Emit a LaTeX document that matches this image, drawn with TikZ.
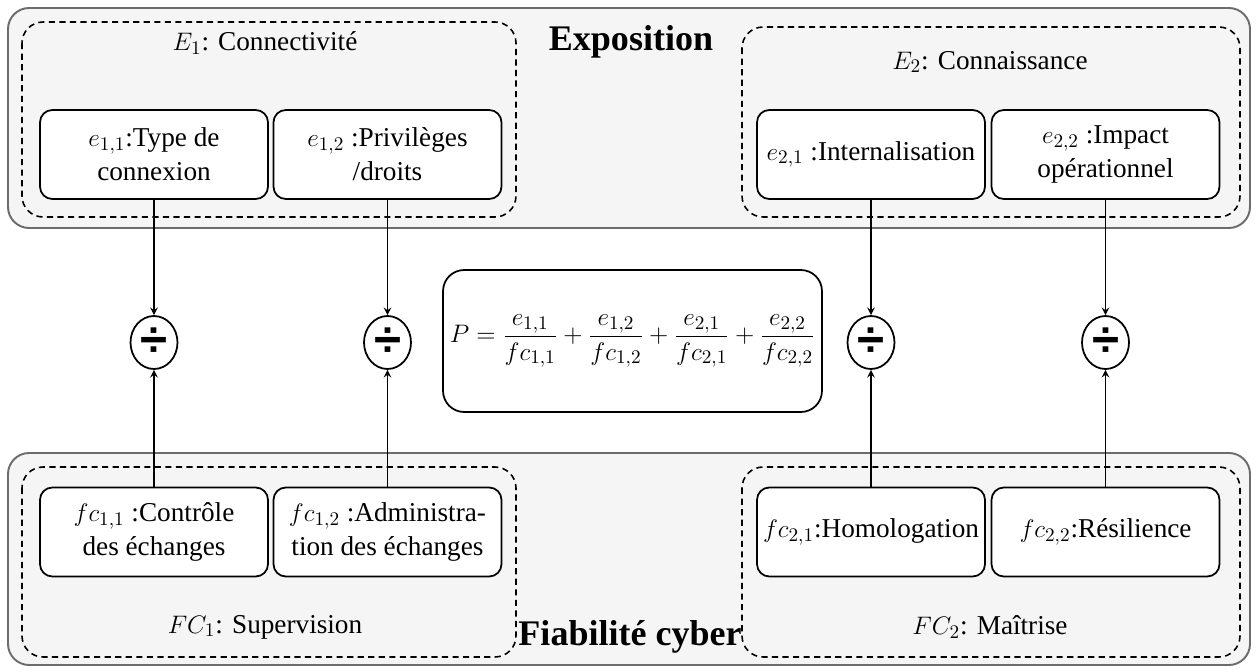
\documentclass[tikz,border=0pt]{standalone}
\usepackage{amsmath}
\usepackage{fontspec}
\setmainfont{Liberation Serif}
\newfontfamily\opfont{Liberation Sans}
\usetikzlibrary{shapes.geometric}
\begin{document}
\begin{tikzpicture}[x=0.02cm,y=-0.02cm,>=stealth,
	font=\fontsize{15.5}{19.5}\selectfont,
	panel/.style={draw=gray!85!black, fill=gray!8, line width=1.1pt, rounded corners=12pt},
	group/.style={draw, line width=0.9pt, rounded corners=12pt, dash pattern=on 3.5pt off 2.5pt},
	item/.style={draw, fill=white, line width=1pt, rounded corners=7pt, minimum width=4.56cm, minimum height=1.78cm, align=center, inner sep=1pt},
	divop/.style={draw, fill=white, ellipse, line width=1pt, minimum width=0.94cm, minimum height=1.06cm, inner sep=0pt},
	title/.style={font=\fontsize{20.5}{24}\selectfont\bfseries},
	link/.style={->, line width=0.9pt}]
	\useasboundingbox (0,0) rectangle (1257,672);
	
	% panels
	\draw[panel] (8,8) rectangle (1250,228);
	\draw[panel] (8,453) rectangle (1250,665);
	\node[title] (expo) at (631,42) {Exposition};
	\node[title] (fiab) at (630,637) {Fiabilité cyber};
	
	% exposition groups
	\draw[group] (22,22) rectangle (516,217);
	\draw[group] (742,27) rectangle (1240,217);
	\node (E1) at (265,43) {$E_1$: Connectivité};
	\node (E2) at (990,62) {$E_2$: Connaissance};
	\node[item] (e11) at (154,154.5) {$e_{1,1}$:Type de\\connexion};
	\node[item] (e12) at (387.5,154.5) {$e_{1,2}$ :Privilèges\\ /droits};
	\node[item] (e21) at (871,154.5) {$e_{2,1}$ :Internalisation};
	\node[item] (e22) at (1105.5,154.5) {$e_{2,2}$ :Impact\\ opérationnel};
	
	% fiabilite groups
	\draw[group] (22,467) rectangle (516,657);
	\draw[group] (742,467) rectangle (1240,657);
	\node (FC1) at (265,627) {$FC_1$: Supervision};
	\node (FC2) at (990,627) {$FC_2$: Maîtrise};
	\node[item] (fc11) at (154,532) {$fc_{1,1}$ :Contrôle\\ des échanges};
	\node[item] (fc12) at (387.5,532) {$fc_{1,2}$ :Administra-\\tion des échanges};
	\node[item] (fc21) at (871,532) {$fc_{2,1}$:Homologation};
	\node[item] (fc22) at (1105.5,532) {$fc_{2,2}$:Résilience};
	
	% formula
	\node[draw, line width=1pt, rounded corners=12pt, minimum width=7.58cm, minimum height=2.84cm, inner sep=0pt, font=\fontsize{15.2}{18}\selectfont] (formula) at (632.5,341)
	{$P=\dfrac{e_{1,1}}{fc_{1,1}}+\dfrac{e_{1,2}}{fc_{1,2}}+\dfrac{e_{2,1}}{fc_{2,1}}+\dfrac{e_{2,2}}{fc_{2,2}}$};
	
	% divisions
	\foreach \n/\x in {1/154, 2/387.5, 3/871, 4/1105.5}
	\node[divop] (div\n) at (\x,342.5) {\opfont\bfseries\fontsize{28}{28}\selectfont ÷};
	\foreach \n/\a/\b in {1/e11/fc11, 2/e12/fc12, 3/e21/fc21, 4/e22/fc22}{
		\draw[link] (\a) -- (div\n);
		\draw[link] (\b) -- (div\n);
	}
\end{tikzpicture}
\end{document}
